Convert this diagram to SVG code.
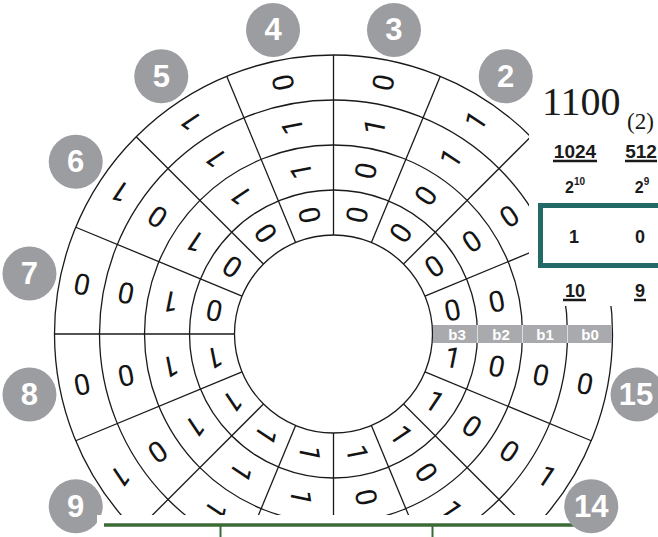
<svg xmlns="http://www.w3.org/2000/svg" width="658" height="537" viewBox="0 0 658 537">
<style>
.ring{fill:none;stroke:#1a1a1a;stroke-width:1.3}
.rad{stroke:#1a1a1a;stroke-width:1.3}
.d{font-family:Roboto,"Liberation Sans",Arial,sans-serif;font-size:29px;fill:#141414;text-anchor:middle;dominant-baseline:central}
.badge circle{fill:#9c9da1}
.badge text{font-family:"Liberation Sans",Arial,sans-serif;font-weight:bold;font-size:31px;fill:#fff;text-anchor:middle;dominant-baseline:central}
.bl{font-family:"Liberation Sans",Arial,sans-serif;font-weight:bold;font-size:15px;fill:#fff;text-anchor:middle}
.tb{font-family:"Liberation Sans",Arial,sans-serif;font-weight:bold;fill:#1a1a1a;text-anchor:middle}
.ul{stroke:#1a1a1a;stroke-width:2.5}
</style>
<defs>
<clipPath id="wclip"><rect x="0" y="0" width="658" height="515"/></clipPath>
</defs>
<rect width="658" height="537" fill="#fff"/>
<g id="wheel" clip-path="url(#wclip)">
<g id="rings">
<circle class="ring" cx="333.5" cy="334" r="99"/>
<circle class="ring" cx="333.5" cy="334" r="144"/>
<circle class="ring" cx="333.5" cy="334" r="189"/>
<circle class="ring" cx="333.5" cy="334" r="234"/>
<circle class="ring" cx="333.5" cy="334" r="279"/>
</g>
<g id="connectors">
<line class="rad" x1="432.5" y1="334" x2="612.5" y2="334"/>
<line class="rad" x1="424.96" y1="296.11" x2="591.26" y2="227.23"/>
<line class="rad" x1="403.5" y1="264" x2="530.78" y2="136.72"/>
<line class="rad" x1="371.39" y1="242.54" x2="440.27" y2="76.24"/>
<line class="rad" x1="333.5" y1="235" x2="333.5" y2="55"/>
<line class="rad" x1="295.61" y1="242.54" x2="226.73" y2="76.24"/>
<line class="rad" x1="263.5" y1="264" x2="136.22" y2="136.72"/>
<line class="rad" x1="242.04" y1="296.11" x2="75.74" y2="227.23"/>
<line class="rad" x1="234.5" y1="334" x2="54.5" y2="334"/>
<line class="rad" x1="242.04" y1="371.89" x2="75.74" y2="440.77"/>
<line class="rad" x1="263.5" y1="404" x2="136.22" y2="531.28"/>
<line class="rad" x1="295.61" y1="425.46" x2="226.73" y2="591.76"/>
<line class="rad" x1="333.5" y1="433" x2="333.5" y2="613"/>
<line class="rad" x1="371.39" y1="425.46" x2="440.27" y2="591.76"/>
<line class="rad" x1="403.5" y1="404" x2="530.78" y2="531.28"/>
<line class="rad" x1="424.96" y1="371.89" x2="591.26" y2="440.77"/>
</g>
<g id="sector-0">
<text class="d" transform="translate(452.67,310.3) rotate(-11.25)">0</text>
<text class="d" transform="translate(496.8,301.52) rotate(-11.25)">0</text>
</g>
<g id="sector-1">
<text class="d" transform="translate(434.52,266.5) rotate(-33.75)">0</text>
<text class="d" transform="translate(471.94,241.5) rotate(-33.75)">0</text>
<text class="d" transform="translate(509.36,216.5) rotate(-33.75)">0</text>
</g>
<g id="sector-2">
<text class="d" transform="translate(401,232.98) rotate(-56.25)">0</text>
<text class="d" transform="translate(426,195.56) rotate(-56.25)">0</text>
<text class="d" transform="translate(451,158.14) rotate(-56.25)">1</text>
<text class="d" transform="translate(476,120.73) rotate(-56.25)">1</text>
</g>
<g id="sector-3">
<text class="d" transform="translate(357.2,214.83) rotate(-78.75)">0</text>
<text class="d" transform="translate(366,170.7) rotate(-78.75)">0</text>
<text class="d" transform="translate(374.76,126.56) rotate(-78.75)">1</text>
<text class="d" transform="translate(383.54,82.43) rotate(-78.75)">0</text>
</g>
<g id="sector-4">
<text class="d" transform="translate(309.8,214.83) rotate(-101.25)">0</text>
<text class="d" transform="translate(301.02,170.7) rotate(-101.25)">1</text>
<text class="d" transform="translate(292.24,126.56) rotate(-101.25)">1</text>
<text class="d" transform="translate(283.46,82.43) rotate(-101.25)">0</text>
</g>
<g id="sector-5">
<text class="d" transform="translate(266,232.98) rotate(-123.75)">0</text>
<text class="d" transform="translate(241,195.56) rotate(-123.75)">1</text>
<text class="d" transform="translate(216,158.14) rotate(-123.75)">1</text>
<text class="d" transform="translate(191,120.73) rotate(-123.75)">1</text>
</g>
<g id="sector-6">
<text class="d" transform="translate(232.48,266.5) rotate(-146.25)">0</text>
<text class="d" transform="translate(195.06,241.5) rotate(-146.25)">1</text>
<text class="d" transform="translate(157.64,216.5) rotate(-146.25)">0</text>
<text class="d" transform="translate(120.23,191.5) rotate(-146.25)">1</text>
</g>
<g id="sector-7">
<text class="d" transform="translate(214.33,310.3) rotate(-168.75)">0</text>
<text class="d" transform="translate(170.2,301.52) rotate(-168.75)">1</text>
<text class="d" transform="translate(126.06,292.74) rotate(-168.75)">0</text>
<text class="d" transform="translate(81.93,283.96) rotate(-168.75)">0</text>
</g>
<g id="sector-8">
<text class="d" transform="translate(214.33,357.7) rotate(-191.25)">1</text>
<text class="d" transform="translate(170.2,366.48) rotate(-191.25)">1</text>
<text class="d" transform="translate(126.06,375.26) rotate(-191.25)">0</text>
<text class="d" transform="translate(81.93,384.04) rotate(-191.25)">0</text>
</g>
<g id="sector-9">
<text class="d" transform="translate(232.48,401.5) rotate(-213.75)">1</text>
<text class="d" transform="translate(195.06,426.5) rotate(-213.75)">1</text>
<text class="d" transform="translate(157.64,451.5) rotate(-213.75)">0</text>
<text class="d" transform="translate(120.23,476.5) rotate(-213.75)">1</text>
</g>
<g id="sector-10">
<text class="d" transform="translate(266,435.02) rotate(-236.25)">1</text>
<text class="d" transform="translate(241,472.44) rotate(-236.25)">1</text>
<text class="d" transform="translate(216,509.86) rotate(-236.25)">1</text>
</g>
<g id="sector-11">
<text class="d" transform="translate(309.8,453.17) rotate(-258.75)">1</text>
<text class="d" transform="translate(301.02,497.3) rotate(-258.75)">1</text>
</g>
<g id="sector-12">
<text class="d" transform="translate(357.2,453.17) rotate(-281.25)">1</text>
<text class="d" transform="translate(365.98,497.3) rotate(-281.25)">0</text>
</g>
<g id="sector-13">
<text class="d" transform="translate(401,435.02) rotate(-303.75)">1</text>
<text class="d" transform="translate(426,472.44) rotate(-303.75)">0</text>
<text class="d" transform="translate(451,509.86) rotate(-303.75)">1</text>
</g>
<g id="sector-14">
<text class="d" transform="translate(434.52,401.5) rotate(-326.25)">1</text>
<text class="d" transform="translate(471.94,426.5) rotate(-326.25)">0</text>
<text class="d" transform="translate(509.36,451.5) rotate(-326.25)">0</text>
<text class="d" transform="translate(546.77,476.5) rotate(-326.25)">1</text>
</g>
<g id="sector-15">
<text class="d" transform="translate(452.67,357.7) rotate(-348.75)">1</text>
<text class="d" transform="translate(496.8,366.48) rotate(-348.75)">0</text>
<text class="d" transform="translate(540.94,375.26) rotate(-348.75)">0</text>
<text class="d" transform="translate(585.07,384.04) rotate(-348.75)">0</text>
</g>
</g>
<g id="bit-strip">
<rect x="433" y="325" width="179" height="18" fill="#a9aaad"/>
<line x1="477.5" y1="325" x2="477.5" y2="343" stroke="#fff" stroke-width="1" opacity="0.6"/>
<line x1="522.5" y1="325" x2="522.5" y2="343" stroke="#fff" stroke-width="1" opacity="0.6"/>
<line x1="567.5" y1="325" x2="567.5" y2="343" stroke="#fff" stroke-width="1" opacity="0.6"/>
<text class="bl" x="457" y="339.5">b3</text>
<text class="bl" x="501" y="339.5">b2</text>
<text class="bl" x="545" y="339.5">b1</text>
<text class="bl" x="590" y="339.5">b0</text>
</g>
<g id="place-table">
<rect x="529" y="85" width="129" height="221" fill="#fff"/>
<text x="542" y="115" font-family="'Liberation Serif','Times New Roman',serif" font-size="40" fill="#1a1a1a">1100</text>
<text x="627" y="129" font-family="'Liberation Serif','Times New Roman',serif" font-size="23" fill="#1a1a1a">(2)</text>
<text class="tb" x="575" y="158" font-size="19">1024</text>
<line class="ul" x1="553" y1="161" x2="597" y2="161"/>
<text class="tb" x="641" y="158" font-size="19">512</text>
<line class="ul" x1="625" y1="161" x2="657" y2="161"/>
<text class="tb" x="575" y="193" font-size="16">2<tspan font-size="10" dy="-8">10</tspan></text>
<text class="tb" x="642" y="193" font-size="16">2<tspan font-size="10" dy="-8">9</tspan></text>
<rect x="540.5" y="205.5" width="130" height="60" fill="none" stroke="#236a67" stroke-width="5"/>
<text class="tb" x="574" y="243" font-size="18">1</text>
<text class="tb" x="640" y="243" font-size="18">0</text>
<text class="tb" x="575" y="297" font-size="18">10</text>
<line class="ul" x1="563" y1="300" x2="586" y2="300"/>
<text class="tb" x="640" y="297" font-size="18">9</text>
<line class="ul" x1="634" y1="300" x2="646" y2="300"/>
</g>
<g id="badge-2" class="badge"><circle cx="505.73" cy="76.24" r="27"/><text x="505.73" y="76.24">2</text></g>
<g id="badge-3" class="badge"><circle cx="393.98" cy="29.96" r="27"/><text x="393.98" y="29.96">3</text></g>
<g id="badge-4" class="badge"><circle cx="273.02" cy="29.96" r="27"/><text x="273.02" y="29.96">4</text></g>
<g id="badge-5" class="badge"><circle cx="161.27" cy="76.24" r="27"/><text x="161.27" y="76.24">5</text></g>
<g id="badge-6" class="badge"><circle cx="75.74" cy="161.77" r="27"/><text x="75.74" y="161.77">6</text></g>
<g id="badge-7" class="badge"><circle cx="29.46" cy="273.52" r="27"/><text x="29.46" y="273.52">7</text></g>
<g id="badge-8" class="badge"><circle cx="29.46" cy="394.48" r="27"/><text x="29.46" y="394.48">8</text></g>
<g id="badge-9" class="badge"><circle cx="75.74" cy="506.23" r="27"/><text x="75.74" y="506.23">9</text></g>
<g id="badge-15" class="badge"><circle cx="637.54" cy="394.48" r="27"/><text x="636" y="394.48">15</text></g>
<g id="axis">
<rect x="97" y="515" width="485" height="22" fill="#fff"/>
<line x1="104" y1="525" x2="578" y2="525" stroke="#3a6b35" stroke-width="3.5"/>
<line x1="220.5" y1="525" x2="220.5" y2="537" stroke="#3a6b35" stroke-width="2"/>
<line x1="432.5" y1="525" x2="432.5" y2="537" stroke="#3a6b35" stroke-width="2"/>
</g>
<g id="badge-14" class="badge"><circle cx="591.26" cy="506.23" r="27"/><text x="591.26" y="506.23">14</text></g>
</svg>
